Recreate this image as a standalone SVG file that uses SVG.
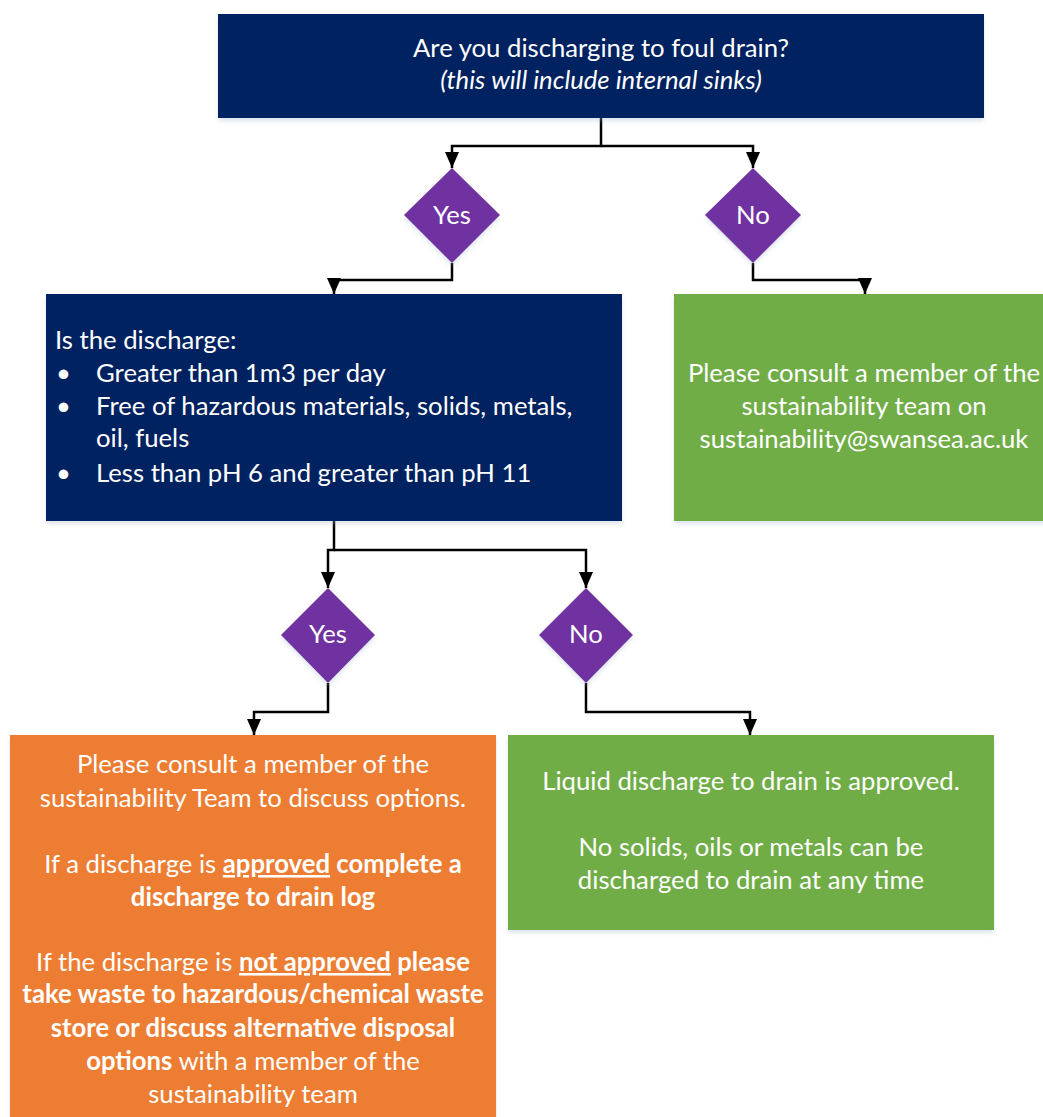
<svg xmlns="http://www.w3.org/2000/svg" width="1043" height="1117" viewBox="0 0 1043 1117">
<defs>
<marker id="arr" markerWidth="16" markerHeight="14" refX="16" refY="7" orient="auto" markerUnits="userSpaceOnUse" viewBox="0 0 16 14">
<path d="M0,0 L16,7 L0,14 Z" fill="#000"/>
</marker>
<filter id="sh" x="-5%" y="-5%" width="110%" height="115%">
<feDropShadow dx="0" dy="3" stdDeviation="2" flood-color="#9fb3d0" flood-opacity="0.35"/>
</filter>
</defs>
<style>
text{font-family:Lato,"Noto Sans",sans-serif;font-size:25.7px;fill:#fff}
.c{text-anchor:middle}
.b{font-weight:bold}
.u{text-decoration:underline}
.navy{fill:#002060}
.purple{fill:#7030A0}
.green{fill:#70AD47}
.orange{fill:#ED7D31}
.conn{fill:none;stroke:#000;stroke-width:2.5}
</style>
<rect width="1043" height="1117" fill="#fff"/>
<g id="connectors">
<path class="conn" d="M601,118 V146 H452 V168" marker-end="url(#arr)"/>
<path class="conn" d="M601,146 H753 V168" marker-end="url(#arr)"/>
<path class="conn" d="M452,263 V280 H334 V294" marker-end="url(#arr)"/>
<path class="conn" d="M753,263 V280 H865 V294" marker-end="url(#arr)"/>
<path class="conn" d="M334,521 V550 H328 V588" marker-end="url(#arr)"/>
<path class="conn" d="M334,550 H586 V588" marker-end="url(#arr)"/>
<path class="conn" d="M328,683 V712 H254 V735" marker-end="url(#arr)"/>
<path class="conn" d="M586,683 V712 H750 V735" marker-end="url(#arr)"/>
</g>
<g id="q1">
<rect class="navy" x="218" y="14" width="766" height="104" filter="url(#sh)"/>
<text class="c" x="601" y="57">Are you discharging to foul drain?</text>
<text class="c" x="601" y="89" font-style="italic">(this will include internal sinks)</text>
</g>
<g id="yes1">
<polygon class="purple" points="452,168 500,215 452,263 404,215" filter="url(#sh)"/>
<text class="c" x="452" y="224">Yes</text>
</g>
<g id="no1">
<polygon class="purple" points="753,168 801,215 753,263 705,215" filter="url(#sh)"/>
<text class="c" x="753" y="224">No</text>
</g>
<g id="q2">
<rect class="navy" x="46" y="294" width="576" height="227" filter="url(#sh)"/>
<text x="55" y="349">Is the discharge:</text>
<text x="56" y="382">•</text>
<text x="96" y="382">Greater than 1m3 per day</text>
<text x="56" y="415">•</text>
<text x="96" y="415">Free of hazardous materials, solids, metals,</text>
<text x="96" y="447">oil, fuels</text>
<text x="56" y="482">•</text>
<text x="96" y="482">Less than pH 6 and greater than pH 11</text>
</g>
<g id="consult1">
<rect class="green" x="674" y="294" width="390" height="227" filter="url(#sh)"/>
<text class="c" x="864" y="382">Please consult a member of the</text>
<text class="c" x="864" y="415">sustainability team on</text>
<text class="c" x="864" y="448">sustainability@swansea.ac.uk</text>
</g>
<g id="yes2">
<polygon class="purple" points="328,588 375,635 328,683 281,635" filter="url(#sh)"/>
<text class="c" x="328" y="643">Yes</text>
</g>
<g id="no2">
<polygon class="purple" points="586,588 633,635 586,683 539,635" filter="url(#sh)"/>
<text class="c" x="586" y="643">No</text>
</g>
<g id="consult2">
<rect class="orange" x="10" y="735" width="486" height="400" filter="url(#sh)"/>
<text class="c" x="253" y="773">Please consult a member of the</text>
<text class="c" x="253" y="807">sustainability Team to discuss options.</text>
<text class="c" x="253" y="873">If a discharge is <tspan class="b u">approved</tspan><tspan class="b"> complete a</tspan></text>
<text class="c b" x="253" y="906">discharge to drain log</text>
<text class="c" x="253" y="971">If the discharge is <tspan class="b u">not approved</tspan><tspan class="b"> please</tspan></text>
<text class="c b" x="253" y="1003">take waste to hazardous/chemical waste</text>
<text class="c b" x="253" y="1037">store or discuss alternative disposal</text>
<text class="c" x="253" y="1070"><tspan class="b">options</tspan> with a member of the</text>
<text class="c" x="253" y="1103">sustainability team</text>
</g>
<g id="approved">
<rect class="green" x="508" y="735" width="486" height="195" filter="url(#sh)"/>
<text class="c" x="751" y="790">Liquid discharge to drain is approved.</text>
<text class="c" x="751" y="856">No solids, oils or metals can be</text>
<text class="c" x="751" y="889">discharged to drain at any time</text>
</g>
</svg>
